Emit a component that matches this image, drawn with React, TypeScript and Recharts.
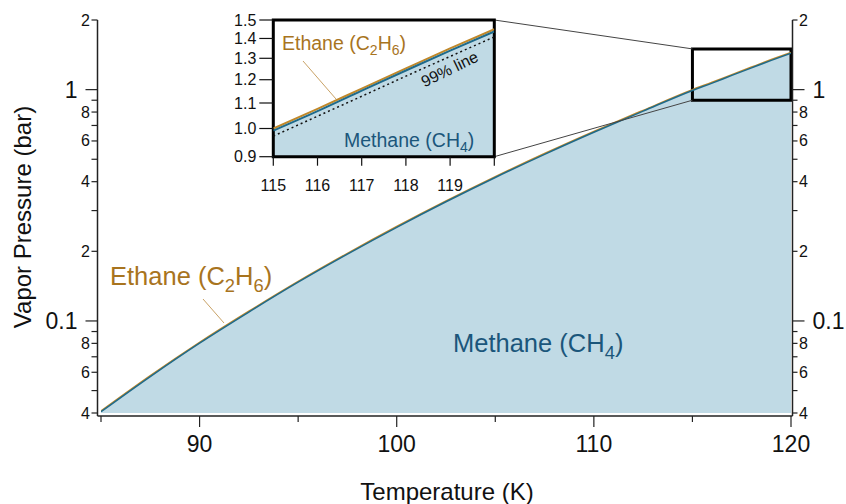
import {
  ComposedChart,
  Area,
  Line,
  XAxis,
  YAxis,
  ReferenceArea,
  ReferenceLine,
} from 'recharts';

// temperatures (K) used for the main curve
const temps = [85, 87.5, 90, 92.5, 95, 97.5, 100, 102.5, 105, 107.5, 110, 112.5, 115, 116, 117, 118, 119, 120];
// vapor pressure (bar)
const methane = [0.0405, 0.0575, 0.0802, 0.1093, 0.1471, 0.1945, 0.254, 0.3275, 0.4172, 0.5253, 0.6543, 0.8073, 0.992, 1.067, 1.152, 1.242, 1.338, 1.437];
const ethane = [0.0408, 0.058, 0.0808, 0.1102, 0.1483, 0.1961, 0.256, 0.3301, 0.4205, 0.5295, 0.6595, 0.8138, 1.0, 1.076, 1.161, 1.252, 1.349, 1.449];

// inset (zoom on 115-120 K)
const insetTemps = [115, 116, 117, 118, 119, 120];
const line99 = [0.972, 1.047, 1.128, 1.216, 1.309, 1.408];

// main axis ticks
const xTicks = [85, 90, 95, 100, 105, 110, 115, 120];
const xTickLabels = ['', '90', '', '100', '', '110', '', '120'];
const yTicks = [0.04, 0.05, 0.06, 0.07, 0.08, 0.09, 0.1, 0.2, 0.3, 0.4, 0.5, 0.6, 0.7, 0.8, 0.9, 1, 2];
const yTickLabels = ['4', '', '6', '', '8', '', '0.1', '2', '', '4', '', '6', '', '8', '', '1', '2'];

// inset axis ticks
const insetXTicks = [115, 116, 117, 118, 119, 120];
const insetXLabels = ['115', '116', '117', '118', '119', ''];
const insetYTicks = [0.9, 1.0, 1.1, 1.2, 1.3, 1.4, 1.5];

const FONT = '"Liberation Sans", Arial, Helvetica, sans-serif';
const AXIS = '#222';
const FILL = '#c0dae5';
const BLUE = '#1f6a8a';
const BLUE_TEXT = '#1b567b';
const GOLD = '#c0882a';
const GOLD_TEXT = '#a8741e';

const mainData = temps.map((t, i) => ({ t, methane: methane[i], ethane: ethane[i] }));
const insetData = insetTemps.map((t, i) => {
  const idx = temps.indexOf(t);
  return { t, methane: methane[idx], ethane: ethane[idx], line99: line99[i] };
});

const labelFor = (v: number, ticks: number[], labels: string[]) => {
  const i = ticks.findIndex(tk => Math.abs(tk - v) < 1e-9);
  return i >= 0 ? labels[i] : '';
};

const LeftTick = ({ x, y, payload }: any) => {
  const label = labelFor(payload.value, yTicks, yTickLabels);
  const big = label === '1' || label === '0.1';
  const len = big ? 12 : 6;
  return (
    <g>
      <line x1={x - len} y1={y} x2={x} y2={y} stroke={AXIS} strokeWidth={1.2} />
      {label && (
        <text x={x - len - (big ? 8 : 1.5)} y={y} textAnchor="end" dominantBaseline="central"
          fontSize={big ? 23 : 16} fill="#111" fontFamily={FONT}>{label}</text>
      )}
    </g>
  );
};

const RightTick = ({ x, y, payload }: any) => {
  const label = labelFor(payload.value, yTicks, yTickLabels);
  const big = label === '1' || label === '0.1';
  const len = big ? 12 : 5;
  return (
    <g>
      <line x1={x} y1={y} x2={x + len} y2={y} stroke={AXIS} strokeWidth={1.2} />
      {label && (
        <text x={x + len + (big ? 8 : 1.5)} y={y} textAnchor="start" dominantBaseline="central"
          fontSize={big ? 23 : 16} fill="#111" fontFamily={FONT}>{label}</text>
      )}
    </g>
  );
};

const BottomTick = ({ x, y, payload }: any) => {
  const label = labelFor(payload.value, xTicks, xTickLabels);
  const len = label ? 11 : 6;
  return (
    <g>
      <line x1={x} y1={y} x2={x} y2={y + len} stroke={AXIS} strokeWidth={1.2} />
      {label && (
        <text x={x} y={y + 36} textAnchor="middle" fontSize={23} fill="#111" fontFamily={FONT}>{label}</text>
      )}
    </g>
  );
};

// chemical formula with subscripts
const Formula = ({ x, y, size, fill, name, parts }: any) => {
  const d = size * 0.27;
  return (
    <text x={x} y={y} fontSize={size} fill={fill} fontFamily={FONT}>
      {name} (
      {parts.map((p: [string, string], i: number) => (
        <tspan key={i}>
          <tspan dy={i === 0 ? 0 : -d}>{p[0]}</tspan>
          {p[1] && <tspan fontSize={size * 0.72} dy={d}>{p[1]}</tspan>}
        </tspan>
      ))}
      <tspan dy={parts[parts.length - 1][1] ? -d : 0}>)</tspan>
    </text>
  );
};

export default function App() {
  return (
    <div style={{ position: 'absolute', left: 0, top: 0, width: 846, height: 504, background: '#fff', fontFamily: FONT }}>
      {/* main chart */}
      <div style={{ position: 'absolute', left: 0, top: 0 }}>
        <ComposedChart width={846} height={504} data={mainData}
          margin={{ top: 20, right: 3.5, bottom: 28, left: 37.5 }}>
          <XAxis dataKey="t" type="number" domain={[85, 120]} ticks={xTicks} allowDataOverflow
            padding={{ left: 3.5, right: 1.5 }} height={60}
            axisLine={{ stroke: AXIS, strokeWidth: 1.5 }} tickLine={false} tickSize={0} tickMargin={0}
            tick={(p: any) => <BottomTick {...p} />} interval={0} />
          <YAxis scale="log" type="number" domain={[0.04, 2]} ticks={yTicks} allowDataOverflow
            padding={{ top: 0, bottom: 3 }} width={60}
            axisLine={{ stroke: AXIS, strokeWidth: 1.5 }} tickLine={false} tickSize={0} tickMargin={0}
            tick={(p: any) => <LeftTick {...p} />} interval={0} />
          <YAxis yAxisId="r" orientation="right" scale="log" type="number" domain={[0.04, 2]} ticks={yTicks}
            allowDataOverflow padding={{ top: 0, bottom: 3 }} width={50}
            axisLine={{ stroke: AXIS, strokeWidth: 1.5 }} tickLine={false} tickSize={0} tickMargin={0}
            tick={(p: any) => <RightTick {...p} />} interval={0} />
          <Area dataKey="methane" type="monotone" fill={FILL} fillOpacity={1} stroke="none"
            baseValue={0.04} isAnimationActive={false} />
          <Line dataKey="ethane" type="monotone" stroke={GOLD} strokeWidth={1.5} dot={false} isAnimationActive={false} />
          <Line dataKey="methane" type="monotone" stroke={BLUE} strokeWidth={1.5} dot={false} isAnimationActive={false} />
          <ReferenceLine segment={[{ x: 104.95, y: 2 }, { x: 115, y: 1.5 }]} stroke="#444" strokeWidth={1} ifOverflow="visible" />
          <ReferenceLine segment={[{ x: 104.95, y: 0.513 }, { x: 115, y: 0.9 }]} stroke="#444" strokeWidth={1} ifOverflow="visible" />
          <ReferenceArea x1={115} x2={120} y1={0.9} y2={1.5} fill="none" stroke="#000" strokeWidth={3} ifOverflow="visible" />
        </ComposedChart>
      </div>

      {/* inset */}
      <div style={{ position: 'absolute', left: 200, top: 0 }}>
        <ComposedChart width={300} height={210} data={insetData}
          margin={{ top: 20, right: 5.7, bottom: 13.3, left: 13.3 }}>
          <XAxis dataKey="t" type="number" domain={[115, 120]} ticks={insetXTicks} allowDataOverflow height={40}
            axisLine={false} tickLine={{ stroke: '#111', strokeWidth: 1.2 }} tickSize={9} tickMargin={14}
            tickFormatter={(v: number) => labelFor(v, insetXTicks, insetXLabels)}
            tick={{ fontSize: 16, fill: '#111', fontFamily: FONT }} interval={0} />
          <YAxis scale="log" type="number" domain={[0.9, 1.5]} ticks={insetYTicks} allowDataOverflow width={60}
            axisLine={false} tickLine={{ stroke: '#111', strokeWidth: 1.2 }} tickSize={14} tickMargin={3}
            tickFormatter={(v: number) => v.toFixed(1)}
            tick={{ fontSize: 16, fill: '#111', fontFamily: FONT }} interval={0} />
          <Area dataKey="methane" type="monotone" fill={FILL} fillOpacity={1} stroke="none"
            baseValue={0.9} isAnimationActive={false} />
          <Line dataKey="line99" type="monotone" stroke="#111" strokeWidth={1.5} strokeDasharray="2 3"
            dot={false} isAnimationActive={false} />
          <Line dataKey="ethane" type="monotone" stroke={GOLD} strokeWidth={2} dot={false} isAnimationActive={false} />
          <Line dataKey="methane" type="monotone" stroke={BLUE} strokeWidth={2} dot={false} isAnimationActive={false} />
          <ReferenceArea x1={115} x2={120} y1={0.9} y2={1.5} fill="none" stroke="#000" strokeWidth={3} ifOverflow="visible" />
        </ComposedChart>
      </div>

      {/* annotations and axis titles */}
      <svg width={846} height={504} style={{ position: 'absolute', left: 0, top: 0, pointerEvents: 'none' }}>
        <text x={31} y={217} transform="rotate(-90 31 217)" textAnchor="middle" fontSize={24} fill="#111" fontFamily={FONT}>
          Vapor Pressure (bar)
        </text>
        <text x={447} y={500} textAnchor="middle" fontSize={24} fill="#111" fontFamily={FONT}>Temperature (K)</text>

        <Formula x={110} y={285} size={25.5} fill={GOLD_TEXT} name="Ethane" parts={[['C', '2'], ['H', '6']]} />
        <line x1={203} y1={299} x2={224} y2={323} stroke="#c9a266" strokeWidth={1} />
        <Formula x={453} y={352} size={25.5} fill={BLUE_TEXT} name="Methane" parts={[['CH', '4']]} />

        <Formula x={282} y={50} size={19.5} fill={GOLD_TEXT} name="Ethane" parts={[['C', '2'], ['H', '6']]} />
        <line x1={303} y1={61} x2={336} y2={99} stroke="#c9a266" strokeWidth={1} />
        <Formula x={344} y={147} size={19.5} fill={BLUE_TEXT} name="Methane" parts={[['CH', '4']]} />
        <text x={452} y={74} transform="rotate(-26 452 74)" textAnchor="middle" fontSize={16} fill="#111" fontFamily={FONT}>
          99% line
        </text>
      </svg>
    </div>
  );
}
